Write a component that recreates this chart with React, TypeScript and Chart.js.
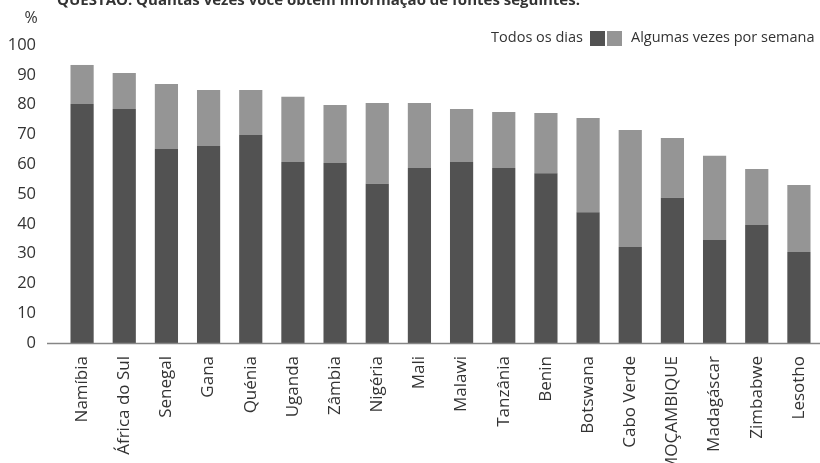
import React, { useEffect, useRef } from "react";
import { Chart, registerables } from "chart.js";

Chart.register(...registerables);

const countries = [
  "Namíbia", "África do Sul", "Senegal", "Gana", "Quénia", "Uganda", "Zâmbia", "Nigéria", "Mali",
  "Malawi", "Tanzânia", "Benin", "Botswana", "Cabo Verde", "MOÇAMBIQUE", "Madagáscar", "Zimbabwe", "Lesotho",
];
const todosOsDias = [80.2, 78.5, 65.1, 66.1, 69.8, 60.7, 60.4, 53.4, 58.7, 60.7, 58.7, 57.0, 43.9, 32.2, 48.7, 34.6, 39.6, 30.5];
const algumasVezes = [13.1, 12.1, 21.8, 18.8, 15.1, 21.9, 19.5, 27.1, 21.8, 17.8, 18.8, 20.2, 31.6, 39.3, 20.1, 28.2, 18.8, 22.5];
const seriesNames = ["Todos os dias", "Algumas vezes por semana"];
const titleText = "QUESTÃO: Quantas vezes você obtém informação de fontes seguintes:";
const yUnit = "%";

const FONT = "'Open Sans', 'Noto Sans', sans-serif";
const TEXT = "#333333";
const DARK = "#525252";
const LIGHT = "#959595";

const decor = {
  id: "decor",
  afterDatasetsDraw(chart: any) {
    const { ctx, chartArea } = chart;
    ctx.save();
    ctx.strokeStyle = "#868686";
    ctx.lineWidth = 1.5;
    ctx.beginPath();
    ctx.moveTo(47, chartArea.bottom + 0.5);
    ctx.lineTo(chart.width, chartArea.bottom + 0.5);
    ctx.stroke();
    ctx.restore();
  },
  afterDraw(chart: any) {
    const { ctx } = chart;
    ctx.save();
    ctx.fillStyle = TEXT;
    ctx.font = `bold 15px ${FONT}`;
    ctx.textAlign = "left";
    ctx.textBaseline = "alphabetic";
    ctx.fillText(titleText, 57, 5);
    ctx.font = `16px ${FONT}`;
    ctx.textAlign = "center";
    ctx.textBaseline = "middle";
    ctx.fillText(yUnit, 31, 18);
    const ds = chart.data.datasets;
    const ly = 38;
    ctx.font = `14.5px ${FONT}`;
    ctx.textAlign = "right";
    ctx.fillText(ds[0].label, 583, ly);
    ctx.fillStyle = ds[0].backgroundColor;
    ctx.fillRect(590, 31, 15, 15);
    ctx.fillStyle = ds[1].backgroundColor;
    ctx.fillRect(607, 31, 15, 15);
    ctx.fillStyle = TEXT;
    ctx.textAlign = "left";
    ctx.fillText(ds[1].label, 631, ly);
    ctx.restore();
  },
};

export default function App() {
  const ref = useRef<HTMLCanvasElement>(null);
  useEffect(() => {
    if (!ref.current) return;
    const chart = new Chart(ref.current, {
      type: "bar",
      data: {
        labels: countries,
        datasets: [
          { label: seriesNames[0], data: todosOsDias, backgroundColor: DARK, borderWidth: 0 },
          { label: seriesNames[1], data: algumasVezes, backgroundColor: LIGHT, borderWidth: 0 },
        ],
      },
      options: {
        responsive: false,
        animation: false,
        layout: { padding: { top: 45, left: 0, right: 0, bottom: 0 } },
        plugins: { legend: { display: false }, title: { display: false }, tooltip: { enabled: false } },
        datasets: { bar: { categoryPercentage: 1, barPercentage: 0.55 } },
        scales: {
          x: {
            stacked: true,
            grid: { display: false },
            border: { display: false },
            ticks: {
              autoSkip: false,
              minRotation: 90,
              maxRotation: 90,
              padding: 5,
              color: TEXT,
              font: { family: FONT, size: 17 },
            },
            afterFit(scale: any) {
              scale.height = 120;
              scale.paddingLeft = 0;
              scale.paddingRight = 0;
            },
          },
          y: {
            stacked: true,
            min: 0,
            max: 100,
            grid: { display: false, drawTicks: false },
            border: { display: false },
            ticks: { stepSize: 10, padding: 25, color: TEXT, font: { family: FONT, size: 16.5 } },
            afterFit(scale: any) {
              scale.width = 61;
            },
          },
        },
      },
      plugins: [decor],
    });
    return () => chart.destroy();
  }, []);
  return (
    <div style={{ position: "absolute", left: 0, top: 0, width: 820, height: 463, background: "#fff" }}>
      <canvas ref={ref} width={820} height={463} style={{ width: 820, height: 463 }} />
    </div>
  );
}
